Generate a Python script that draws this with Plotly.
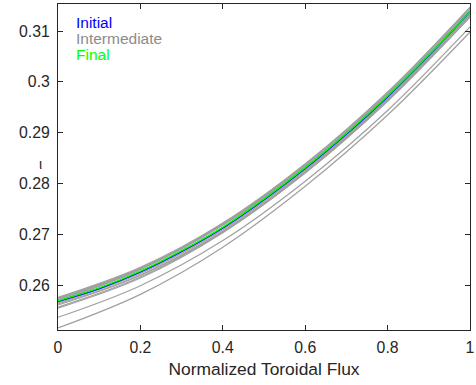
import plotly.graph_objects as go

# ---- data ----
s_fine = [0.0, 0.1, 0.2, 0.3, 0.4, 0.5, 0.6, 0.7, 0.8, 0.9, 1.0]
iota_initial = [0.25695, 0.25945, 0.26272, 0.26673, 0.27135, 0.27690,
                0.28300, 0.28977, 0.29712, 0.30518, 0.31378]
iota_final = [0.25705, 0.25957, 0.26285, 0.26687, 0.27150, 0.27705,
              0.28316, 0.28992, 0.29725, 0.30528, 0.31385]

s_coarse = [0.0, 0.2, 0.4, 0.6, 0.8, 1.0]
iota_intermediate = [
    [0.2577, 0.2636, 0.2723, 0.2839, 0.2980, 0.3147],
    [0.2575, 0.2634, 0.2721, 0.2837, 0.2978, 0.3145],
    [0.2573, 0.2632, 0.2719, 0.2835, 0.2976, 0.3142],
    [0.2576, 0.2633, 0.2719, 0.2834, 0.2974, 0.3139],
    [0.2568, 0.2626, 0.2713, 0.2829, 0.2970, 0.3136],
    [0.2566, 0.2624, 0.2710, 0.2826, 0.2967, 0.3133],
    [0.2564, 0.2621, 0.2707, 0.2823, 0.2964, 0.3130],
    [0.2562, 0.2620, 0.2706, 0.2823, 0.2965, 0.3132],
    [0.2570, 0.2632, 0.2722, 0.2839, 0.2980, 0.3146],
    [0.2558, 0.2617, 0.2705, 0.2822, 0.2963, 0.3128],
    [0.2556, 0.2615, 0.2704, 0.2821, 0.2962, 0.3127],
    [0.2538, 0.2600, 0.26885, 0.28051, 0.2944, 0.3108],
    [0.2517, 0.2583, 0.26755, 0.27951, 0.2935, 0.3098],
]

x_tickvals = [0, 0.2, 0.4, 0.6, 0.8, 1]
x_ticktext = ["0", "0.2", "0.4", "0.6", "0.8", "1"]
y_tickvals = [0.26, 0.27, 0.28, 0.29, 0.30, 0.31]
y_ticktext = ["0.26", "0.27", "0.28", "0.29", "0.3", "0.31"]

legend_labels = ["Initial", "Intermediate", "Final"]
legend_colors = ["#0000ff", "#8c8c8c", "#00ff00"]

FONT = "Liberation Sans, Arial, sans-serif"
AX = "#262626"

fig = go.Figure()
for curve in iota_intermediate:
    fig.add_trace(go.Scatter(x=s_coarse, y=curve, mode="lines",
                             line=dict(color="#a0a0a0", width=1.2, shape="spline"),
                             showlegend=False, hoverinfo="skip"))
fig.add_trace(go.Scatter(x=s_fine, y=iota_initial, mode="lines",
                         line=dict(color="#0000ff", width=1.5, shape="spline"),
                         showlegend=False))
fig.add_trace(go.Scatter(x=s_fine, y=iota_final, mode="lines",
                         line=dict(color="#00ff00", width=1.5, shape="spline"),
                         showlegend=False))

for i, (lab, col) in enumerate(zip(legend_labels, legend_colors)):
    fig.add_annotation(x=0.04, y=0.942 - 0.049 * i, xref="paper", yref="paper",
                       text=lab, showarrow=False, xanchor="left", yanchor="middle",
                       font=dict(family=FONT, size=15.5, color=col))

# y-axis label (iota)
fig.add_annotation(x=-0.043, y=0.51, xref="paper", yref="paper", text="ι",
                   showarrow=False, xanchor="center", yanchor="middle",
                   font=dict(family=FONT, size=14, color=AX))

fig.update_layout(
    width=476, height=385,
    margin=dict(l=58, r=1, t=4, b=55),
    plot_bgcolor="white", paper_bgcolor="white",
    font=dict(family=FONT, size=15.8, color=AX),
)
fig.update_xaxes(
    range=[0, 1], tickvals=x_tickvals, ticktext=x_ticktext,
    ticks="inside", ticklen=5, tickcolor=AX, showline=True, linecolor=AX,
    linewidth=1, mirror="ticks", showgrid=False, zeroline=False,
    title=dict(text="Normalized Toroidal Flux", font=dict(size=17.4), standoff=7),
    ticklabelstandoff=3, ticklabeloverflow="allow",
)
fig.update_yaxes(
    range=[0.2513, 0.3153], tickvals=y_tickvals, ticktext=y_ticktext,
    ticks="inside", ticklen=5, tickcolor=AX, showline=True, linecolor=AX,
    linewidth=1, mirror="ticks", showgrid=False, zeroline=False,
    ticklabelstandoff=4, ticklabeloverflow="allow",
)

fig.write_html("out.html")
